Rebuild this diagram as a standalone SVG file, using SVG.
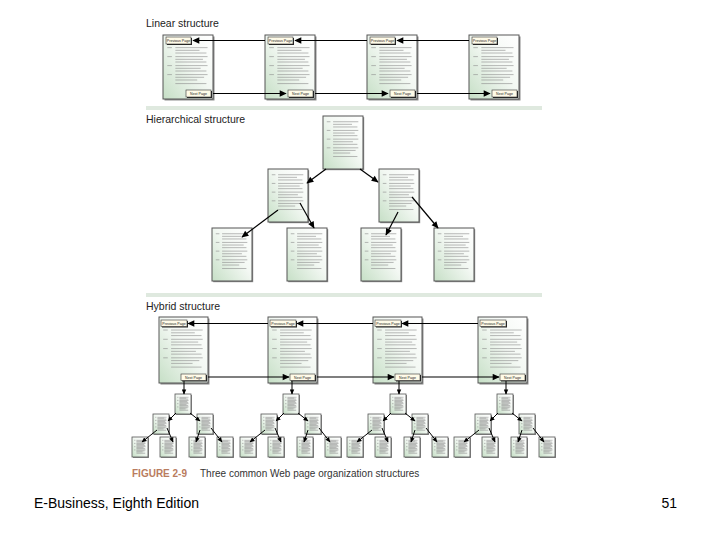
<svg xmlns="http://www.w3.org/2000/svg" xmlns:xlink="http://www.w3.org/1999/xlink" width="720" height="540" viewBox="0 0 720 540">
<style>
.ttl{font-family:"Liberation Sans",Arial,sans-serif;font-size:10.5px;fill:#222}
.cap{font-family:"Liberation Sans",Arial,sans-serif;font-size:10px;fill:#333}
.fig{font-family:"Liberation Sans",Arial,sans-serif;font-size:10px;font-weight:bold;fill:#b97c5e}
.foot{font-family:"Liberation Sans",Arial,sans-serif;font-size:14px;fill:#000}
.pg{fill:url(#gg);stroke:#555;stroke-width:1}
.sh{fill:#8a8a8a}
.btn{fill:#fffbe8;stroke:#333;stroke-width:0.6}
.bsh{fill:#222}
.bt{font-family:"Liberation Sans",Arial,sans-serif;font-size:3.6px;fill:#222;text-anchor:middle}
.tlp{fill:none;stroke:#8c8c8c;stroke-width:0.6;vector-effect:non-scaling-stroke}
.band{fill:#dfe9df}
.cn line{stroke:#000;stroke-width:1.2}
.cn .big{marker-end:url(#ah)}
.cn .sm{marker-end:url(#ahs);stroke-width:1}
</style>
<defs>
<linearGradient id="gg" x1="1" y1="0" x2="0" y2="1">
<stop offset="0" stop-color="#ffffff"/>
<stop offset="0.45" stop-color="#f3f8f3"/>
<stop offset="1" stop-color="#c6dfc6"/>
</linearGradient>
<marker id="ah" viewBox="0 0 10 10" refX="9" refY="5" markerWidth="8" markerHeight="7" markerUnits="userSpaceOnUse" orient="auto">
<path d="M0 0.5L10 5L0 9.5z" fill="#000"/>
</marker>
<marker id="ahs" viewBox="0 0 10 10" refX="9" refY="5" markerWidth="5.5" markerHeight="5" markerUnits="userSpaceOnUse" orient="auto">
<path d="M0 0.5L10 5L0 9.5z" fill="#000"/>
</marker>
<symbol id="tl" viewBox="0 0 40 46" preserveAspectRatio="none">
<path class="tlp" d="M2 2H6M2 12H6M2 22H6M2 32H6M9 2H37M9 5H30M9 8H36M9 12H37M9 15H33M9 18H36M9 22H37M9 25H31M9 28H36M9 32H37M9 35H34M9 38H28M9 42H36"/>
</symbol>
<symbol id="np" viewBox="0 0 50 65" preserveAspectRatio="none" overflow="visible">
<rect class="sh" x="1.5" y="1.5" width="50" height="65"/>
<rect class="pg" x="0" y="0" width="50" height="65"/>
<use href="#tl" x="2" y="11" width="46" height="42"/>
</symbol>
<symbol id="hp" viewBox="0 0 40 53" overflow="visible">
<rect class="sh" x="1.2" y="1.2" width="40" height="53"/>
<rect class="pg" x="0" y="0" width="40" height="53"/>
<use href="#tl" x="2" y="4" width="36" height="40"/>
</symbol>
<symbol id="mini" viewBox="0 0 16 20" overflow="visible">
<rect class="sh" x="1" y="1" width="16" height="20"/>
<rect class="pg" x="0" y="0" width="16" height="20" style="stroke-width:0.8"/>
<use href="#tl" x="1.5" y="2.5" width="13" height="15"/>
</symbol>
</defs>
<rect width="720" height="540" fill="#fff"/>

<text class="ttl" x="146" y="27">Linear structure</text>
<rect class="band" x="146" y="106" width="396" height="4"/>
<text class="ttl" x="146" y="123">Hierarchical structure</text>
<rect class="band" x="146" y="293" width="396" height="4"/>
<text class="ttl" x="146" y="310">Hybrid structure</text>

<!-- Linear pages -->
<g id="lin1">
<use href="#np" x="163" y="35" width="50" height="64"/>
<rect class="bsh" x="167" y="38" width="25" height="7"/><rect class="btn" x="166" y="37" width="25" height="7"/><text class="bt" x="178.5" y="42">Previous Page</text>
<rect class="bsh" x="187" y="91" width="25" height="7"/><rect class="btn" x="186" y="90" width="25" height="7"/><text class="bt" x="198.5" y="95">Next Page</text>
</g>
<g id="lin2">
<use href="#np" x="265" y="35" width="50" height="64"/>
<rect class="bsh" x="269" y="38" width="25" height="7"/><rect class="btn" x="268" y="37" width="25" height="7"/><text class="bt" x="280.5" y="42">Previous Page</text>
<rect class="bsh" x="289" y="91" width="25" height="7"/><rect class="btn" x="288" y="90" width="25" height="7"/><text class="bt" x="300.5" y="95">Next Page</text>
</g>
<g id="lin3">
<use href="#np" x="367" y="35" width="50" height="64"/>
<rect class="bsh" x="371" y="38" width="25" height="7"/><rect class="btn" x="370" y="37" width="25" height="7"/><text class="bt" x="382.5" y="42">Previous Page</text>
<rect class="bsh" x="391" y="91" width="25" height="7"/><rect class="btn" x="390" y="90" width="25" height="7"/><text class="bt" x="402.5" y="95">Next Page</text>
</g>
<g id="lin4">
<use href="#np" x="469" y="35" width="50" height="64"/>
<rect class="bsh" x="473" y="38" width="25" height="7"/><rect class="btn" x="472" y="37" width="25" height="7"/><text class="bt" x="484.5" y="42">Previous Page</text>
<rect class="bsh" x="493" y="91" width="25" height="7"/><rect class="btn" x="492" y="90" width="25" height="7"/><text class="bt" x="504.5" y="95">Next Page</text>
</g>

<!-- Hierarchical pages -->
<g id="hier-root"><use href="#hp" x="323" y="116" width="40" height="53"/></g>
<g id="hier-a"><use href="#hp" x="268" y="169" width="40" height="53"/></g>
<g id="hier-b"><use href="#hp" x="379" y="169" width="40" height="53"/></g>
<g id="hier-a1"><use href="#hp" x="212" y="228" width="40" height="53"/></g>
<g id="hier-a2"><use href="#hp" x="287" y="228" width="40" height="53"/></g>
<g id="hier-b1"><use href="#hp" x="361" y="228" width="40" height="53"/></g>
<g id="hier-b2"><use href="#hp" x="434" y="228" width="40" height="53"/></g>

<!-- Hybrid pages -->
<g id="hyb1">
<use href="#np" x="159" y="317" width="49" height="66"/>
<rect class="bsh" x="162" y="321" width="26" height="6.5"/><rect class="btn" x="161" y="320" width="26" height="6.5"/><text class="bt" x="174" y="324.7">Previous Page</text>
<rect class="bsh" x="182" y="375" width="25" height="6.5"/><rect class="btn" x="181" y="374" width="25" height="6.5"/><text class="bt" x="193.5" y="378.7">Next Page</text>
</g>
<g id="hyb2">
<use href="#np" x="268" y="317" width="49" height="66"/>
<rect class="bsh" x="271" y="321" width="26" height="6.5"/><rect class="btn" x="270" y="320" width="26" height="6.5"/><text class="bt" x="283" y="324.7">Previous Page</text>
<rect class="bsh" x="291" y="375" width="25" height="6.5"/><rect class="btn" x="290" y="374" width="25" height="6.5"/><text class="bt" x="302.5" y="378.7">Next Page</text>
</g>
<g id="hyb3">
<use href="#np" x="373" y="317" width="49" height="66"/>
<rect class="bsh" x="376" y="321" width="26" height="6.5"/><rect class="btn" x="375" y="320" width="26" height="6.5"/><text class="bt" x="388" y="324.7">Previous Page</text>
<rect class="bsh" x="396" y="375" width="25" height="6.5"/><rect class="btn" x="395" y="374" width="25" height="6.5"/><text class="bt" x="407.5" y="378.7">Next Page</text>
</g>
<g id="hyb4">
<use href="#np" x="478" y="317" width="49" height="66"/>
<rect class="bsh" x="481" y="321" width="26" height="6.5"/><rect class="btn" x="480" y="320" width="26" height="6.5"/><text class="bt" x="493" y="324.7">Previous Page</text>
<rect class="bsh" x="501" y="375" width="25" height="6.5"/><rect class="btn" x="500" y="374" width="25" height="6.5"/><text class="bt" x="512.5" y="378.7">Next Page</text>
</g>

<!-- Hybrid sub-trees -->
<g id="t1-r"><use href="#mini" x="175" y="394" width="16" height="20"/></g>
<g id="t1-a"><use href="#mini" x="153" y="414" width="16" height="20"/></g>
<g id="t1-b"><use href="#mini" x="197" y="414" width="16" height="20"/></g>
<g id="t1-a1"><use href="#mini" x="132" y="437" width="16" height="20"/></g>
<g id="t1-a2"><use href="#mini" x="160" y="437" width="16" height="20"/></g>
<g id="t1-b1"><use href="#mini" x="189" y="437" width="16" height="20"/></g>
<g id="t1-b2"><use href="#mini" x="217" y="437" width="16" height="20"/></g>

<g id="t2-r"><use href="#mini" x="283" y="394" width="16" height="20"/></g>
<g id="t2-a"><use href="#mini" x="261" y="414" width="16" height="20"/></g>
<g id="t2-b"><use href="#mini" x="305" y="414" width="16" height="20"/></g>
<g id="t2-a1"><use href="#mini" x="240" y="437" width="16" height="20"/></g>
<g id="t2-a2"><use href="#mini" x="268" y="437" width="16" height="20"/></g>
<g id="t2-b1"><use href="#mini" x="297" y="437" width="16" height="20"/></g>
<g id="t2-b2"><use href="#mini" x="325" y="437" width="16" height="20"/></g>

<g id="t3-r"><use href="#mini" x="390" y="394" width="16" height="20"/></g>
<g id="t3-a"><use href="#mini" x="368" y="414" width="16" height="20"/></g>
<g id="t3-b"><use href="#mini" x="412" y="414" width="16" height="20"/></g>
<g id="t3-a1"><use href="#mini" x="347" y="437" width="16" height="20"/></g>
<g id="t3-a2"><use href="#mini" x="375" y="437" width="16" height="20"/></g>
<g id="t3-b1"><use href="#mini" x="404" y="437" width="16" height="20"/></g>
<g id="t3-b2"><use href="#mini" x="432" y="437" width="16" height="20"/></g>

<g id="t4-r"><use href="#mini" x="497" y="394" width="16" height="20"/></g>
<g id="t4-a"><use href="#mini" x="475" y="414" width="16" height="20"/></g>
<g id="t4-b"><use href="#mini" x="519" y="414" width="16" height="20"/></g>
<g id="t4-a1"><use href="#mini" x="454" y="437" width="16" height="20"/></g>
<g id="t4-a2"><use href="#mini" x="482" y="437" width="16" height="20"/></g>
<g id="t4-b1"><use href="#mini" x="511" y="437" width="16" height="20"/></g>
<g id="t4-b2"><use href="#mini" x="539" y="437" width="16" height="20"/></g>

<!-- Connectors -->
<g id="connectors" class="cn">
<line class="big" x1="265" y1="40.5" x2="193" y2="40.5"/>
<line class="big" x1="367" y1="40.5" x2="295" y2="40.5"/>
<line class="big" x1="469" y1="40.5" x2="397" y2="40.5"/>
<line class="big" x1="213" y1="93.5" x2="286" y2="93.5"/>
<line class="big" x1="315" y1="93.5" x2="388" y2="93.5"/>
<line class="big" x1="417" y1="93.5" x2="490" y2="93.5"/>

<line class="big" x1="326" y1="169" x2="307" y2="183"/>
<line class="big" x1="360" y1="169" x2="378" y2="182"/>
<line class="big" x1="278" y1="210" x2="242" y2="237"/>
<line class="big" x1="300" y1="203" x2="314" y2="228"/>
<line class="big" x1="398" y1="212" x2="386" y2="235"/>
<line class="big" x1="412" y1="197" x2="438" y2="228"/>

<line class="big" x1="268" y1="323.5" x2="188" y2="323.5"/>
<line class="big" x1="373" y1="323.5" x2="297" y2="323.5"/>
<line class="big" x1="478" y1="323.5" x2="402" y2="323.5"/>
<line class="big" x1="208" y1="377" x2="289" y2="377"/>
<line class="big" x1="317" y1="377" x2="394" y2="377"/>
<line class="big" x1="422" y1="377" x2="499" y2="377"/>

<line class="sm" x1="184" y1="381" x2="184" y2="394"/>
<line class="sm" x1="176" y1="413" x2="168" y2="421"/>
<line class="sm" x1="190" y1="413" x2="200" y2="421"/>
<line class="sm" x1="157" y1="430" x2="142" y2="442"/>
<line class="sm" x1="167" y1="428" x2="173" y2="442"/>
<line class="sm" x1="200" y1="430" x2="196" y2="442"/>
<line class="sm" x1="211" y1="428" x2="222" y2="442"/>

<line class="sm" x1="292" y1="381" x2="292" y2="394"/>
<line class="sm" x1="284" y1="413" x2="276" y2="421"/>
<line class="sm" x1="298" y1="413" x2="308" y2="421"/>
<line class="sm" x1="265" y1="430" x2="250" y2="442"/>
<line class="sm" x1="275" y1="428" x2="281" y2="442"/>
<line class="sm" x1="308" y1="430" x2="304" y2="442"/>
<line class="sm" x1="319" y1="428" x2="330" y2="442"/>

<line class="sm" x1="399" y1="381" x2="399" y2="394"/>
<line class="sm" x1="391" y1="413" x2="383" y2="421"/>
<line class="sm" x1="405" y1="413" x2="415" y2="421"/>
<line class="sm" x1="372" y1="430" x2="357" y2="442"/>
<line class="sm" x1="382" y1="428" x2="388" y2="442"/>
<line class="sm" x1="415" y1="430" x2="411" y2="442"/>
<line class="sm" x1="426" y1="428" x2="437" y2="442"/>

<line class="sm" x1="506" y1="381" x2="506" y2="394"/>
<line class="sm" x1="498" y1="413" x2="490" y2="421"/>
<line class="sm" x1="512" y1="413" x2="522" y2="421"/>
<line class="sm" x1="479" y1="430" x2="464" y2="442"/>
<line class="sm" x1="489" y1="428" x2="495" y2="442"/>
<line class="sm" x1="522" y1="430" x2="518" y2="442"/>
<line class="sm" x1="533" y1="428" x2="544" y2="442"/>
</g>

<text x="132" y="477"><tspan class="fig">FIGURE 2-9</tspan></text>
<text class="cap" x="200" y="477">Three common Web page organization structures</text>
<text class="foot" x="34" y="508">E-Business, Eighth Edition</text>
<text class="foot" x="677" y="508" text-anchor="end">51</text>
</svg>
